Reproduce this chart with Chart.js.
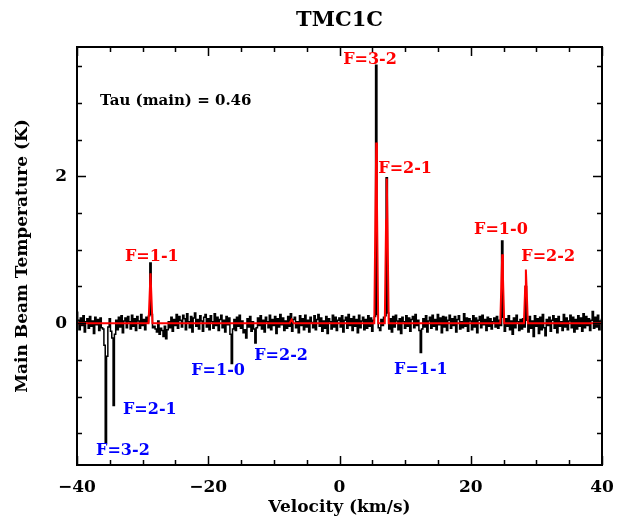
<!DOCTYPE html>
<html>
<head>
<meta charset="utf-8">
<script src="https://cdn.jsdelivr.net/npm/chart.js@4"></script>
<style>
  html, body { margin: 0; padding: 0; background: #fff; }
  #wrap { width: 629px; height: 518px; }
</style>
</head>
<body>
<div id="wrap"><canvas id="spec" width="629" height="518"></canvas></div>
<script>
// spectrum channels: first velocity and channel width (km/s)
const velStart = -40;
const velStep = 0.2;

// observed main beam temperature per channel (K), 20 channels per row
const temps = [
   0.15,  0.04, -0.09,  0.07, -0.03,  0.10, -0.12,  0.02,  0.06, -0.07,  0.09, -0.04,  0.03, -0.14,  0.08, -0.02,  0.05, -0.10,  0.07, -0.06,
  -0.08, -0.30, -1.63, -0.45, -0.05,  0.06, -0.11, -0.20, -1.12, -0.15,  0.04, -0.09,  0.08, -0.05,  0.10, -0.13,  0.03,  0.07, -0.06,  0.09,
   0.02, -0.08,  0.11, -0.04,  0.06, -0.10,  0.09,  0.03, -0.07,  0.12, -0.03,  0.05, -0.09,  0.08,  0.01,  0.10,  0.82,  0.12, -0.06, -0.04,
  -0.08, -0.12,  0.03, -0.15, -0.07, -0.10, -0.18, -0.04, -0.21, -0.09,  0.02, -0.06,  0.08, -0.11,  0.05, -0.03,  0.12, -0.07,  0.09,  0.04,
  -0.05,  0.11,  0.06, -0.09,  0.13,  0.02, -0.06,  0.09, -0.12,  0.07,  0.14, -0.04,  0.05, -0.08,  0.10,  0.03, -0.11,  0.08,  0.12, -0.05,
   0.06, -0.09,  0.10,  0.02, -0.07,  0.13, -0.03,  0.08, -0.10,  0.05,  0.11, -0.06,  0.04, -0.12,  0.09, -0.02,  0.07, -0.15, -0.55, -0.08,
   0.05, -0.10,  0.08, -0.04,  0.11, -0.07,  0.03, -0.13, -0.09, -0.20,  0.06, -0.05,  0.09, -0.11,  0.02, -0.08, -0.27, -0.06,  0.07, -0.03,
   0.10, -0.08,  0.04, -0.12,  0.08,  0.02, -0.06,  0.11, -0.09,  0.05, -0.03,  0.09, -0.14,  0.06, -0.05,  0.12, -0.02,  0.07, -0.10,  0.03,
  -0.07,  0.09, -0.04,  0.13, -0.11,  0.05,  0.08, -0.06,  0.02, -0.13,  0.10, -0.03,  0.06, -0.09,  0.11, -0.05,  0.04, -0.12,  0.08,  0.01,
  -0.06,  0.10, -0.09,  0.05,  0.12, -0.04,  0.07, -0.11,  0.03, -0.07,  0.09, -0.14,  0.06,  0.02, -0.08,  0.11, -0.05,  0.08, -0.10,  0.04,
   0.07, -0.05,  0.10, -0.12,  0.04,  0.08, -0.07,  0.12, -0.03,  0.06, -0.10,  0.09, -0.04,  0.05, -0.13,  0.11, -0.06,  0.03,  0.08, -0.09,
   0.05, -0.07,  0.10, -0.04,  0.07, -0.11,  0.04,  0.09,  3.51,  0.12, -0.06, -0.10,  0.05, -0.03,  0.08,  0.10,  1.98,  0.14, -0.08,  0.06,
  -0.12,  0.09, -0.05,  0.11,  0.03, -0.09,  0.06, -0.14,  0.08,  0.02, -0.07,  0.10, -0.04,  0.07, -0.11,  0.05,  0.09, -0.06,  0.12, -0.03,
   0.04, -0.10, -0.40, -0.08,  0.06, -0.05,  0.10, -0.12,  0.03,  0.08, -0.07,  0.11, -0.04,  0.05, -0.09,  0.12, -0.02,  0.07, -0.13,  0.09,
  -0.05,  0.08, -0.10,  0.04,  0.11, -0.07,  0.06, -0.03,  0.09, -0.12,  0.05,  0.10, -0.08,  0.02, -0.06,  0.13, -0.04,  0.07, -0.11,  0.06,
   0.03, -0.09,  0.10, -0.05,  0.07, -0.13,  0.04,  0.09, -0.06,  0.11, -0.02,  0.05, -0.10,  0.08, -0.04,  0.06, -0.08,  0.02,  0.07, -0.05,
   0.09, -0.07,  0.04, -0.03,  1.12,  0.08, -0.11,  0.06, -0.04,  0.10, -0.09,  0.03, -0.15,  0.07, -0.06,  0.11,  0.02, -0.10,  0.05, -0.08,
   0.06, -0.05,  0.50,  0.04, -0.12,  0.09, -0.07,  0.03, -0.18,  0.10, -0.04,  0.06, -0.14,  0.08, -0.09,  0.12, -0.06, -0.17,  0.05, -0.03,
   0.08, -0.11,  0.04,  0.10, -0.07,  0.06, -0.13,  0.09, -0.04,  0.02, -0.10,  0.12, -0.05,  0.07, -0.09,  0.03,  0.11, -0.06,  0.08, -0.12,
   0.05, -0.08,  0.10, -0.04,  0.07, -0.11,  0.13, -0.06,  0.09, -0.03,  0.06, -0.10,  0.04,  0.16, -0.07,  0.08, -0.05,  0.11, -0.09,  0.03,
   0.05
];

// hyperfine fit (red)
const fitVel  = [-40, -29.1, -28.9, -28.8, -28.7, -28.5, -7.6, -7.3, -7.0, 5.3, 5.5, 5.6, 5.7, 5.9, 6.9, 7.1, 7.2, 7.3, 7.5, 24.5, 24.7, 24.8, 24.9, 25.1, 28.1, 28.3, 28.4, 28.5, 28.7, 40];
const fitTemp = [0, 0, 0.45, 0.68, 0.45, 0, 0, 0.05, 0, 0, 1.7, 2.46, 1.7, 0, 0, 1.4, 1.97, 1.4, 0, 0, 0.65, 0.94, 0.65, 0, 0, 0.5, 0.73, 0.5, 0, 0];

// line labels: text, velocity, temperature
const redLabels = [
  ['F=3-2', 4.65, 3.59],
  ['F=2-1', 10.0, 2.10],
  ['F=1-1', -28.6, 0.91],
  ['F=1-0', 24.6, 1.27],
  ['F=2-2', 31.8, 0.90]
];
const blueLabels = [
  ['F=3-2', -33.0, -1.74],
  ['F=2-1', -28.9, -1.18],
  ['F=1-0', -18.5, -0.65],
  ['F=2-2', -8.9, -0.45],
  ['F=1-1', 12.4, -0.64]
];
const tauText = 'Tau (main) = 0.46';
const tauPos = [-36.5, 3.03];

const xMajor = [-40, -20, 0, 20, 40];
const yMajor = [0, 2];

const FONT = "'DejaVu Serif', serif";

const specPoints = temps.map((t, i) => ({ x: velStart + i * velStep, y: t }));
const fitPoints = fitVel.map((v, i) => ({ x: v, y: fitTemp[i] }));

const framePlugin = {
  id: 'frame',
  afterDatasetsDraw(chart) {
    const { ctx, chartArea: a, scales: { x, y } } = chart;
    ctx.save();
    ctx.strokeStyle = '#000';
    ctx.lineWidth = 1.5;
    ctx.beginPath();
    // x ticks, inward on bottom and top
    for (let v = -40; v <= 40; v += 5) {
      const px = Math.round(x.getPixelForValue(v)) + 0.5;
      const len = v % 20 === 0 ? 9 : 5;
      ctx.moveTo(px, a.bottom); ctx.lineTo(px, a.bottom - len);
      ctx.moveTo(px, a.top); ctx.lineTo(px, a.top + len);
    }
    // y ticks, inward on left and right
    for (let v = -1.5; v <= 3.5; v += 0.5) {
      const py = Math.round(y.getPixelForValue(v)) + 0.5;
      const len = v % 2 === 0 ? 9 : 5;
      ctx.moveTo(a.left, py); ctx.lineTo(a.left + len, py);
      ctx.moveTo(a.right, py); ctx.lineTo(a.right - len, py);
    }
    ctx.stroke();
    ctx.lineWidth = 2;
    ctx.strokeRect(a.left, a.top, a.right - a.left, a.bottom - a.top);

    // line labels
    ctx.font = 'bold 16px ' + FONT;
    ctx.textAlign = 'center';
    ctx.textBaseline = 'middle';
    ctx.fillStyle = '#ff0000';
    redLabels.forEach(([t, v, k]) => ctx.fillText(t, x.getPixelForValue(v), y.getPixelForValue(k)));
    ctx.fillStyle = '#0000ff';
    blueLabels.forEach(([t, v, k]) => ctx.fillText(t, x.getPixelForValue(v), y.getPixelForValue(k)));
    ctx.fillStyle = '#000';
    ctx.textAlign = 'left';
    ctx.font = 'bold 15px ' + FONT;
    ctx.fillText(tauText, x.getPixelForValue(tauPos[0]), y.getPixelForValue(tauPos[1]));

    // title
    ctx.font = 'bold 21px ' + FONT;
    ctx.textAlign = 'center';
    ctx.fillText('TMC1C', (a.left + a.right) / 2, 21);
    ctx.restore();
  }
};

new Chart(document.getElementById('spec'), {
  type: 'line',
  data: {
    datasets: [
      {
        data: specPoints,
        borderColor: '#000',
        borderWidth: 1.5,
        pointRadius: 0,
        stepped: 'middle',
        order: 2
      },
      {
        data: fitPoints,
        borderColor: '#ff0000',
        borderWidth: 2,
        pointRadius: 0,
        tension: 0,
        order: 1
      }
    ]
  },
  options: {
    responsive: false,
    animation: false,
    events: [],
    layout: { padding: { top: 47, right: 27, left: 12, bottom: 0 } },
    plugins: { legend: { display: false }, tooltip: { enabled: false }, title: { display: false } },
    scales: {
      x: {
        type: 'linear',
        min: -40,
        max: 40,
        grid: { display: false, drawTicks: false },
        border: { display: false },
        ticks: {
          stepSize: 5,
          padding: 12,
          color: '#000',
          font: { family: FONT, size: 17, weight: 'bold' },
          maxRotation: 0,
          autoSkip: false,
          callback: v => xMajor.includes(v) ? String(v).replace('-', '\u2212') : ''
        },
        title: {
          display: true,
          text: 'Velocity (km/s)',
          color: '#000',
          font: { family: FONT, size: 17, weight: 'bold' },
          padding: { top: 0, bottom: 0 }
        },
        afterFit: s => { s.height = 53; }
      },
      y: {
        min: -1.93,
        max: 3.76,
        grid: { display: false, drawTicks: false },
        border: { display: false },
        ticks: {
          stepSize: 0.5,
          padding: 10,
          color: '#000',
          font: { family: FONT, size: 17, weight: 'bold' },
          autoSkip: false,
          callback: v => yMajor.includes(v) ? String(v) : ''
        },
        title: {
          display: true,
          text: 'Main Beam Temperature (K)',
          color: '#000',
          font: { family: FONT, size: 17, weight: 'bold' },
          padding: { top: 0, bottom: 0 }
        },
        afterFit: s => { s.width = 65; }
      }
    }
  },
  plugins: [framePlugin]
});
</script>
</body>
</html>
